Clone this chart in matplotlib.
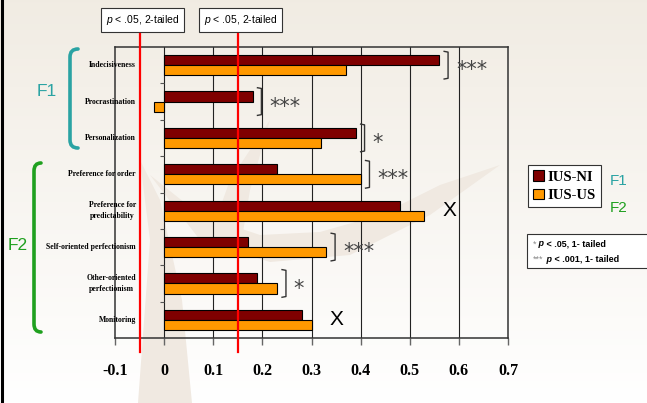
import numpy as np
import matplotlib.pyplot as plt
import matplotlib.transforms as mtransforms
from matplotlib.patches import Rectangle, PathPatch, Polygon
from matplotlib.path import Path

plt.rcParams['mathtext.fontset'] = 'custom'
plt.rcParams['mathtext.it'] = 'Liberation Sans:italic'
plt.rcParams['mathtext.rm'] = 'Liberation Sans'

# data
categories = ["Indecisiveness", "Procrastination", "Personalization",
              "Preference for order", "Preference for\npredictability",
              "Self-oriented perfectionism", "Other-oriented\nperfectionism",
              "Monitoring"]
ius_ni = [0.56, 0.18, 0.39, 0.23, 0.48, 0.17, 0.19, 0.28]
ius_us = [0.37, -0.02, 0.32, 0.40, 0.53, 0.33, 0.23, 0.30]
series_names = ["IUS-NI", "IUS-US"]
xticks = [-0.1, 0.0, 0.1, 0.2, 0.3, 0.4, 0.5, 0.6, 0.7]
xtick_labels = ["-0.1", "0", "0.1", "0.2", "0.3", "0.4", "0.5", "0.6", "0.7"]
crit_lines = [-0.05, 0.15]
crit_labels = ["p < .05, 2-tailed", "p < .05, 2-tailed"]
sig_cats = [0, 1, 2, 3, 5, 6]
sig_labels = ["***", "***", "*", "***", "***", "*"]
diff_cats = [4, 7]

W, H = 647, 403
fig = plt.figure(figsize=(W / 100, H / 100), dpi=100)

# background (gradient + faint watermark)
bg = fig.add_axes([0, 0, 1, 1], zorder=-10)
bg.axis("off")
top = np.array([0.945, 0.925, 0.89])
bot = np.array([1.0, 1.0, 1.0])
t = np.linspace(0, 1, 256)[:, None, None]
grad = top * (1 - t) + bot * t
grad = np.repeat(grad, 2, axis=1)
bg.imshow(grad, extent=[0, W, H, 0], aspect="auto")
bg.set_xlim(0, W)
bg.set_ylim(H, 0)
wm = "#f0e9e1"
bg.add_patch(Polygon([(138, 403), (192, 403), (182, 300), (160, 200), (140, 160),
                      (150, 240)], closed=True, fc=wm, ec="none"))
bg.add_patch(Polygon([(150, 175), (200, 215), (260, 235), (320, 232), (380, 215),
                      (440, 185), (500, 165), (430, 215), (350, 255), (270, 262),
                      (200, 240)], closed=True, fc=wm, ec="none"))
bg.add_patch(Polygon([(205, 250), (230, 180), (270, 120), (250, 190), (240, 250)],
                     closed=True, fc=wm, ec="none"))

# overlay axes in pixel coords for decorations
ov = fig.add_axes([0, 0, 1, 1], zorder=5)
ov.axis("off")
ov.patch.set_visible(False)
ov.set_xlim(0, W)
ov.set_ylim(H, 0)

# main chart
ax = fig.add_axes([115 / W, 1 - 338 / H, 393 / W, 291 / H], zorder=1)
ax.set_facecolor("none")
y = np.arange(len(categories))
h = 0.28
b1 = ax.barh(y - h / 2, ius_ni, h, color="#7f0000", edgecolor="black", lw=0.8,
             label=series_names[0], zorder=3)
b2 = ax.barh(y + h / 2, ius_us, h, color="#ff9900", edgecolor="black", lw=0.8,
             label=series_names[1], zorder=3)
ax.set_xlim(-0.1, 0.7)
ax.set_ylim(len(categories) - 0.5, -0.5)
ax.set_xticks(xticks)
ax.set_xticklabels(xtick_labels, fontfamily="Liberation Serif",
                   fontweight="bold", fontsize=11.5)
ax.tick_params(axis="x", length=5, width=1, color="#666666", pad=13)
ax.set_yticks([])
for xt in xticks[1:-1]:
    ax.axvline(xt, color="#222222", lw=0.8, zorder=1)
for s in ax.spines.values():
    s.set_color("#333333")
    s.set_linewidth(1.1)
ax.hlines(np.arange(0.5, len(categories) - 0.5), -0.008, 0, color="#555555",
          lw=0.8, zorder=2)

lab_tr = mtransforms.blended_transform_factory(ax.transAxes, ax.transData)
for i, c in enumerate(categories):
    ax.text(0.053, i, c, transform=lab_tr, ha="right", va="center",
            multialignment="center", fontfamily="Liberation Serif",
            fontweight="bold", fontsize=5.6, zorder=4, linespacing=1.5)

# critical value lines and their boxes
cl_tr = mtransforms.blended_transform_factory(ax.transData, ax.transAxes)
for cx, lab in zip(crit_lines, crit_labels):
    ax.plot([cx, cx], [-0.048, 1.045], transform=cl_tr, color="#ff0000",
            lw=1.6, clip_on=False, zorder=4)
    txt = lab.replace("p", r"$\mathit{p}$", 1)
    ax.text(cx + 0.006, 1.093, txt, transform=cl_tr, ha="center", va="center",
            fontsize=7.5, fontfamily="Liberation Sans",
            bbox=dict(boxstyle="square,pad=0.45", fc="white", ec="#333333", lw=0.8))

# significance brackets
for i, lab in zip(sig_cats, sig_labels):
    m = max(ius_ni[i], ius_us[i])
    x0 = m + 0.01
    x1 = x0 + 0.008
    ax.plot([x0, x1, x1, x0], [i - 0.38, i - 0.36, i + 0.36, i + 0.38],
            color="#333333", lw=1.0, zorder=4, solid_joinstyle="round")
    ax.text(x1 + 0.016, i + 0.14, lab, ha="left", va="center", fontsize=15,
            color="#444444", fontfamily="DejaVu Sans", zorder=4)
for i in diff_cats:
    m = max(ius_ni[i], ius_us[i])
    ax.text(m + 0.05, i, "X", ha="center", va="center", fontsize=15,
            fontfamily="Liberation Sans", zorder=4)

# legend
leg = fig.legend([b1, b2], series_names, loc="upper left",
                 bbox_to_anchor=(528 / W, 1 - 165 / H), borderaxespad=0,
                 prop=dict(family="Liberation Serif", weight="bold", size=10.5),
                 frameon=True, fancybox=False, edgecolor="#333333",
                 facecolor="white", framealpha=1, handlelength=0.75,
                 handleheight=0.75, handletextpad=0.25, borderpad=0.35,
                 labelspacing=0.35)
leg.get_frame().set_linewidth(0.8)

teal = "#2aa3a3"
green = "#1fa01f"
ov.text(610, 181, "F1", color=teal, fontsize=11, fontfamily="Liberation Sans",
        va="center")
ov.text(610, 208, "F2", color=green, fontsize=11, fontfamily="Liberation Sans",
        va="center")

# one-tailed note box
ov.add_patch(Rectangle((527, 234), 130, 34, fc="white", ec="#333333", lw=0.8,
                       clip_on=False))
for yy, star, rest in [(244, "*", " < .05, 1- tailed"), (259, "***", " < .001, 1- tailed")]:
    t1 = ov.text(533, yy, star, color="#888888", fontsize=6.5,
                 fontfamily="Liberation Sans", va="center", ha="left")
    t2 = ov.annotate(" p", xy=(1, 0), xycoords=t1, va="bottom", ha="left",
                     fontsize=6.5, fontfamily="Liberation Sans",
                     fontweight="bold", fontstyle="italic")
    ov.annotate(rest, xy=(1, 0), xycoords=t2, va="bottom", ha="left",
                fontsize=6.5, fontfamily="Liberation Sans", fontweight="bold")

# factor brackets
def bracket(x_in, x_out, y0, y1, color):
    c = 8
    verts = [(x_out, y0), (x_in, y0), (x_in, y0 + c), (x_in, y1 - c),
             (x_in, y1), (x_out, y1)]
    codes = [Path.MOVETO, Path.CURVE3, Path.CURVE3, Path.LINETO,
             Path.CURVE3, Path.CURVE3]
    ov.add_patch(PathPatch(Path(verts, codes), fc="none", ec=color, lw=2.6,
                           capstyle="round"))

bracket(70, 78, 49, 148, teal)
ov.text(47, 92, "F1", color=teal, fontsize=12.5, fontfamily="Liberation Sans",
        ha="center", va="center")
bracket(34, 41, 163, 332, green)
ov.text(18, 245, "F2", color=green, fontsize=12.5, fontfamily="Liberation Sans",
        ha="center", va="center")

# slide border on the left
ov.plot([1.5, 1.5], [0, H], color="black", lw=2.2)

fig.savefig("out.png", dpi=100)
